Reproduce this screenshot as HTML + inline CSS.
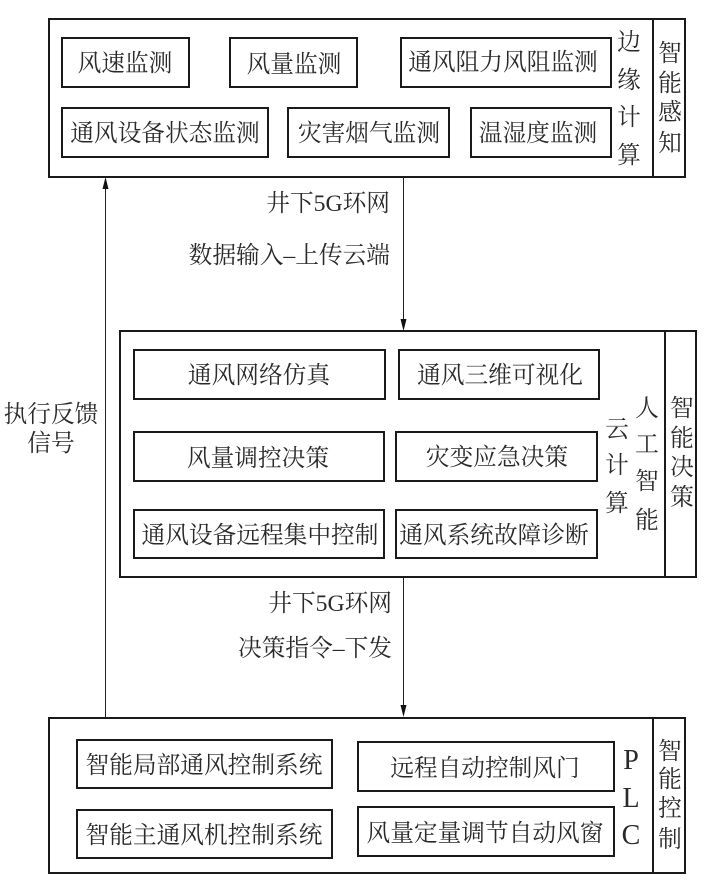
<!DOCTYPE html>
<html lang="zh"><head><meta charset="utf-8"><style>
html,body{margin:0;padding:0;background:#fff}
svg{display:block}
text{font-family:"Liberation Serif","Noto Serif CJK SC",serif;font-size:23.7px;fill:#2a2a2a;text-anchor:middle}
.l{text-anchor:end}
.p{font-size:28px}
rect,.d{fill:none;stroke:#1a1a1a;stroke-width:2}
.t{stroke:#222;stroke-width:1;fill:none}
</style></head><body>
<svg width="715" height="896" viewBox="0 0 715 896" xmlns="http://www.w3.org/2000/svg">
<rect x="49" y="19" width="636" height="158"/><path class="d" d="M653 19V177"/>
<rect x="62" y="38" width="127" height="49"/><rect x="230" y="38" width="127" height="49"/><rect x="401" y="38" width="210" height="49"/>
<rect x="62" y="108" width="206" height="49"/><rect x="288" y="108" width="161" height="49"/><rect x="471" y="108" width="140" height="49"/>
<text x="125" y="71">风速监测</text><text x="294" y="72">风量监测</text><text x="503" y="70">通风阻力风阻监测</text>
<text x="165" y="141">通风设备状态监测</text><text x="369" y="141">灾害烟气监测</text><text x="538" y="141">温湿度监测</text>
<text x="629" y="50">边</text><text x="629" y="88">缘</text><text x="629" y="125">计</text><text x="629" y="163">算</text>
<text x="670" y="61">智</text><text x="670" y="91">能</text><text x="670" y="120">感</text><text x="670" y="151">知</text>
<path class="t" d="M105.5 717V184M403.5 177V326M403.5 577V712"/>
<path d="M105.5 177l-3 12h6zM403.5 331l-3-12h6zM403.5 717l-3-12h6z" fill="#111"/>
<text class="l" x="390" y="211">井下5G环网</text><text class="l" x="390" y="263">数据输入–上传云端</text>
<rect x="120" y="331" width="576" height="246"/><path class="d" d="M665 331V577"/>
<rect x="134" y="350" width="251" height="49"/><rect x="399" y="350" width="200" height="49"/>
<rect x="134" y="432" width="250" height="49"/><rect x="396" y="432" width="201" height="49"/>
<rect x="134" y="510" width="250" height="48"/><rect x="396" y="510" width="201" height="48"/>
<text x="259" y="383">通风网络仿真</text><text x="500" y="383">通风三维可视化</text>
<text x="258" y="466">风量调控决策</text><text x="497" y="465">灾变应急决策</text>
<text x="260" y="543">通风设备远程集中控制</text><text x="494" y="543">通风系统故障诊断</text>
<text x="617" y="437">云</text><text x="617" y="473">计</text><text x="617" y="511">算</text>
<text x="647" y="416">人</text><text x="647" y="452">工</text><text x="647" y="489">智</text><text x="647" y="528">能</text>
<text x="682" y="416">智</text><text x="682" y="446">能</text><text x="682" y="475">决</text><text x="682" y="505">策</text>
<text x="51" y="422">执行反馈</text><text x="51" y="451">信号</text>
<text class="l" x="392" y="611">井下5G环网</text><text class="l" x="392" y="656">决策指令–下发</text>
<rect x="49" y="718" width="636" height="155"/><path class="d" d="M653 718V873"/>
<rect x="77" y="740" width="255" height="48"/><rect x="77" y="810" width="255" height="48"/>
<rect x="358" y="742" width="256" height="49"/><rect x="358" y="807" width="256" height="49"/>
<text x="204" y="773">智能局部通风控制系统</text><text x="204" y="843">智能主通风机控制系统</text>
<text x="485" y="776">远程自动控制风门</text><text x="485" y="841">风量定量调节自动风窗</text>
<text class="p" x="631" y="769">P</text><text class="p" x="631" y="807">L</text><text class="p" x="631" y="844">C</text>
<text x="670" y="759">智</text><text x="670" y="787">能</text><text x="670" y="816">控</text><text x="670" y="847">制</text>
</svg>
</body></html>
